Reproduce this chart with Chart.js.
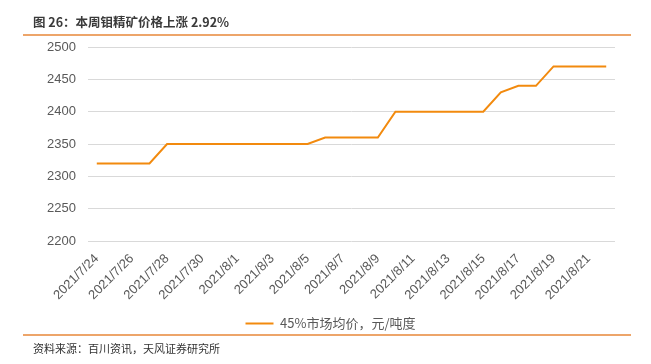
<!DOCTYPE html>
<html>
<head>
<meta charset="utf-8">
<script src="https://cdn.jsdelivr.net/npm/chart.js@4"></script>
<style>
  html, body { margin: 0; padding: 0; background: #fff; }
  #wrap { position: relative; width: 651px; height: 364px; }
</style>
</head>
<body>
<div id="wrap"><canvas id="price_chart" width="651" height="364"></canvas></div>
<script>
const dates = [
    '2021/7/24', '2021/7/25', '2021/7/26', '2021/7/27', '2021/7/28', '2021/7/29',
    '2021/7/30', '2021/7/31', '2021/8/1', '2021/8/2', '2021/8/3', '2021/8/4',
    '2021/8/5', '2021/8/6', '2021/8/7', '2021/8/8', '2021/8/9', '2021/8/10',
    '2021/8/11', '2021/8/12', '2021/8/13', '2021/8/14', '2021/8/15', '2021/8/16',
    '2021/8/17', '2021/8/18', '2021/8/19', '2021/8/20', '2021/8/21', '2021/8/22'
];
const price_45 = [
    2320, 2320, 2320, 2320, 2350, 2350,
    2350, 2350, 2350, 2350, 2350, 2350,
    2350, 2360, 2360, 2360, 2360, 2400,
    2400, 2400, 2400, 2400, 2400, 2430,
    2440, 2440, 2470, 2470, 2470, 2470
];
const y_min = 2200, y_max = 2500, y_step = 50;
const series_name = '45%市场均价，元/吨度';
const title_text = '图 26：本周钼精矿价格上涨 2.92%';
const source_text = '资料来源：百川资讯，天风证券研究所';

// title, orange rules and source line
const frame = {
    id: 'frame',
    afterDraw(chart) {
        const c = chart.ctx;
        c.save();
        c.fillStyle = '#3a3a3a';
        c.textBaseline = 'middle';
        c.font = 'bold 12.5px "Noto Sans CJK SC", sans-serif';
        c.fillText(title_text, 33, 22);
        c.strokeStyle = '#E8883A';
        c.lineWidth = 1.5;
        c.beginPath();
        c.moveTo(23, 35); c.lineTo(631, 35);
        c.moveTo(23, 335); c.lineTo(631, 335);
        c.stroke();
        c.fillStyle = '#333';
        c.font = '11px "Noto Sans CJK SC", sans-serif';
        c.fillText(source_text, 33, 349);
        c.restore();
    }
};

const ctx_price = document.getElementById('price_chart');
const price_chart = new Chart(ctx_price, {
    type: 'line',
    data: {
        labels: dates,
        datasets: [{
            label: series_name,
            data: price_45,
            borderColor: '#F28A0E',
            backgroundColor: '#F28A0E',
            borderWidth: 2,
            pointRadius: 0,
            tension: 0,
        }],
    },
    options: {
        responsive: false,
        animation: false,
        layout: { padding: { left: 46, right: 36, top: 47, bottom: 24 } },
        scales: {
            x: {
                offset: true,
                grid: { display: false, drawTicks: false },
                border: { display: false },
                afterFit: function(scale) { scale.height = 66; },
                ticks: {
                    autoSkip: false,
                    maxRotation: 45,
                    minRotation: 45,
                    padding: 10,
                    color: '#595959',
                    font: { family: '"Liberation Sans", Arial, sans-serif', size: 13 },
                    callback: function(value, index) {
                        return index % 2 === 0 ? dates[index] : '';
                    }
                },
            },
            y: {
                min: y_min,
                max: y_max,
                grid: { color: '#D9D9D9', lineWidth: 1, drawTicks: false },
                border: { display: false },
                afterFit: function(scale) { scale.width = 42; },
                ticks: {
                    stepSize: y_step,
                    padding: 12,
                    color: '#595959',
                    font: { family: '"Liberation Sans", Arial, sans-serif', size: 13 },
                    callback: function(value) { return value.toString(); }
                },
            }
        },
        plugins: {
            legend: {
                position: 'bottom',
                labels: {
                    usePointStyle: true,
                    pointStyle: 'line',
                    pointStyleWidth: 28,
                    padding: 10,
                    color: '#595959',
                    font: { family: '"Noto Sans CJK SC", sans-serif', size: 13 },
                },
            },
            tooltip: { enabled: false },
        },
    },
    plugins: [frame],
});
</script>
</body>
</html>
